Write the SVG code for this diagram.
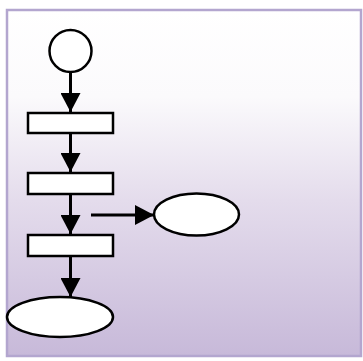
<svg xmlns="http://www.w3.org/2000/svg" width="363" height="361" viewBox="0 0 363 361">
<defs>
<linearGradient id="bg" x1="0" y1="0" x2="0" y2="1">
<stop offset="0" stop-color="#ffffff"/>
<stop offset="0.25" stop-color="#fbfafc"/>
<stop offset="0.55" stop-color="#e4dcec"/>
<stop offset="1" stop-color="#c7b9d9"/>
</linearGradient>
<marker id="arr" viewBox="0 0 19 20" refX="19" refY="10" markerWidth="19" markerHeight="20" markerUnits="userSpaceOnUse" orient="auto">
<path d="M0,0 L19,10 L0,20 Z" fill="#000"/>
</marker>
<style>
.node{fill:#fff;stroke:#000;stroke-width:2.5}
.edge{stroke:#000;stroke-width:3;fill:none;marker-end:url(#arr)}
</style>
</defs>
<rect x="7" y="10" width="354" height="346" fill="url(#bg)" stroke="#b3a6cf" stroke-width="2.5"/>
<g id="connectors">
<line class="edge" x1="70.5" y1="72" x2="70.5" y2="112"/>
<line class="edge" x1="70.5" y1="133" x2="70.5" y2="172"/>
<line class="edge" x1="70.5" y1="194" x2="70.5" y2="234"/>
<line class="edge" x1="91" y1="215" x2="154" y2="215"/>
<line class="edge" x1="70.5" y1="256" x2="70.5" y2="297"/>
</g>
<g id="start"><circle class="node" cx="70.5" cy="51" r="21"/></g>
<g id="step1"><rect class="node" x="28" y="113" width="85" height="20"/></g>
<g id="step2"><rect class="node" x="28" y="173" width="85" height="21"/></g>
<g id="step3"><rect class="node" x="28" y="235" width="85" height="21"/></g>
<g id="side"><ellipse class="node" cx="196.5" cy="214.5" rx="42.5" ry="21"/></g>
<g id="end"><ellipse class="node" cx="60" cy="317" rx="53" ry="20"/></g>
</svg>
